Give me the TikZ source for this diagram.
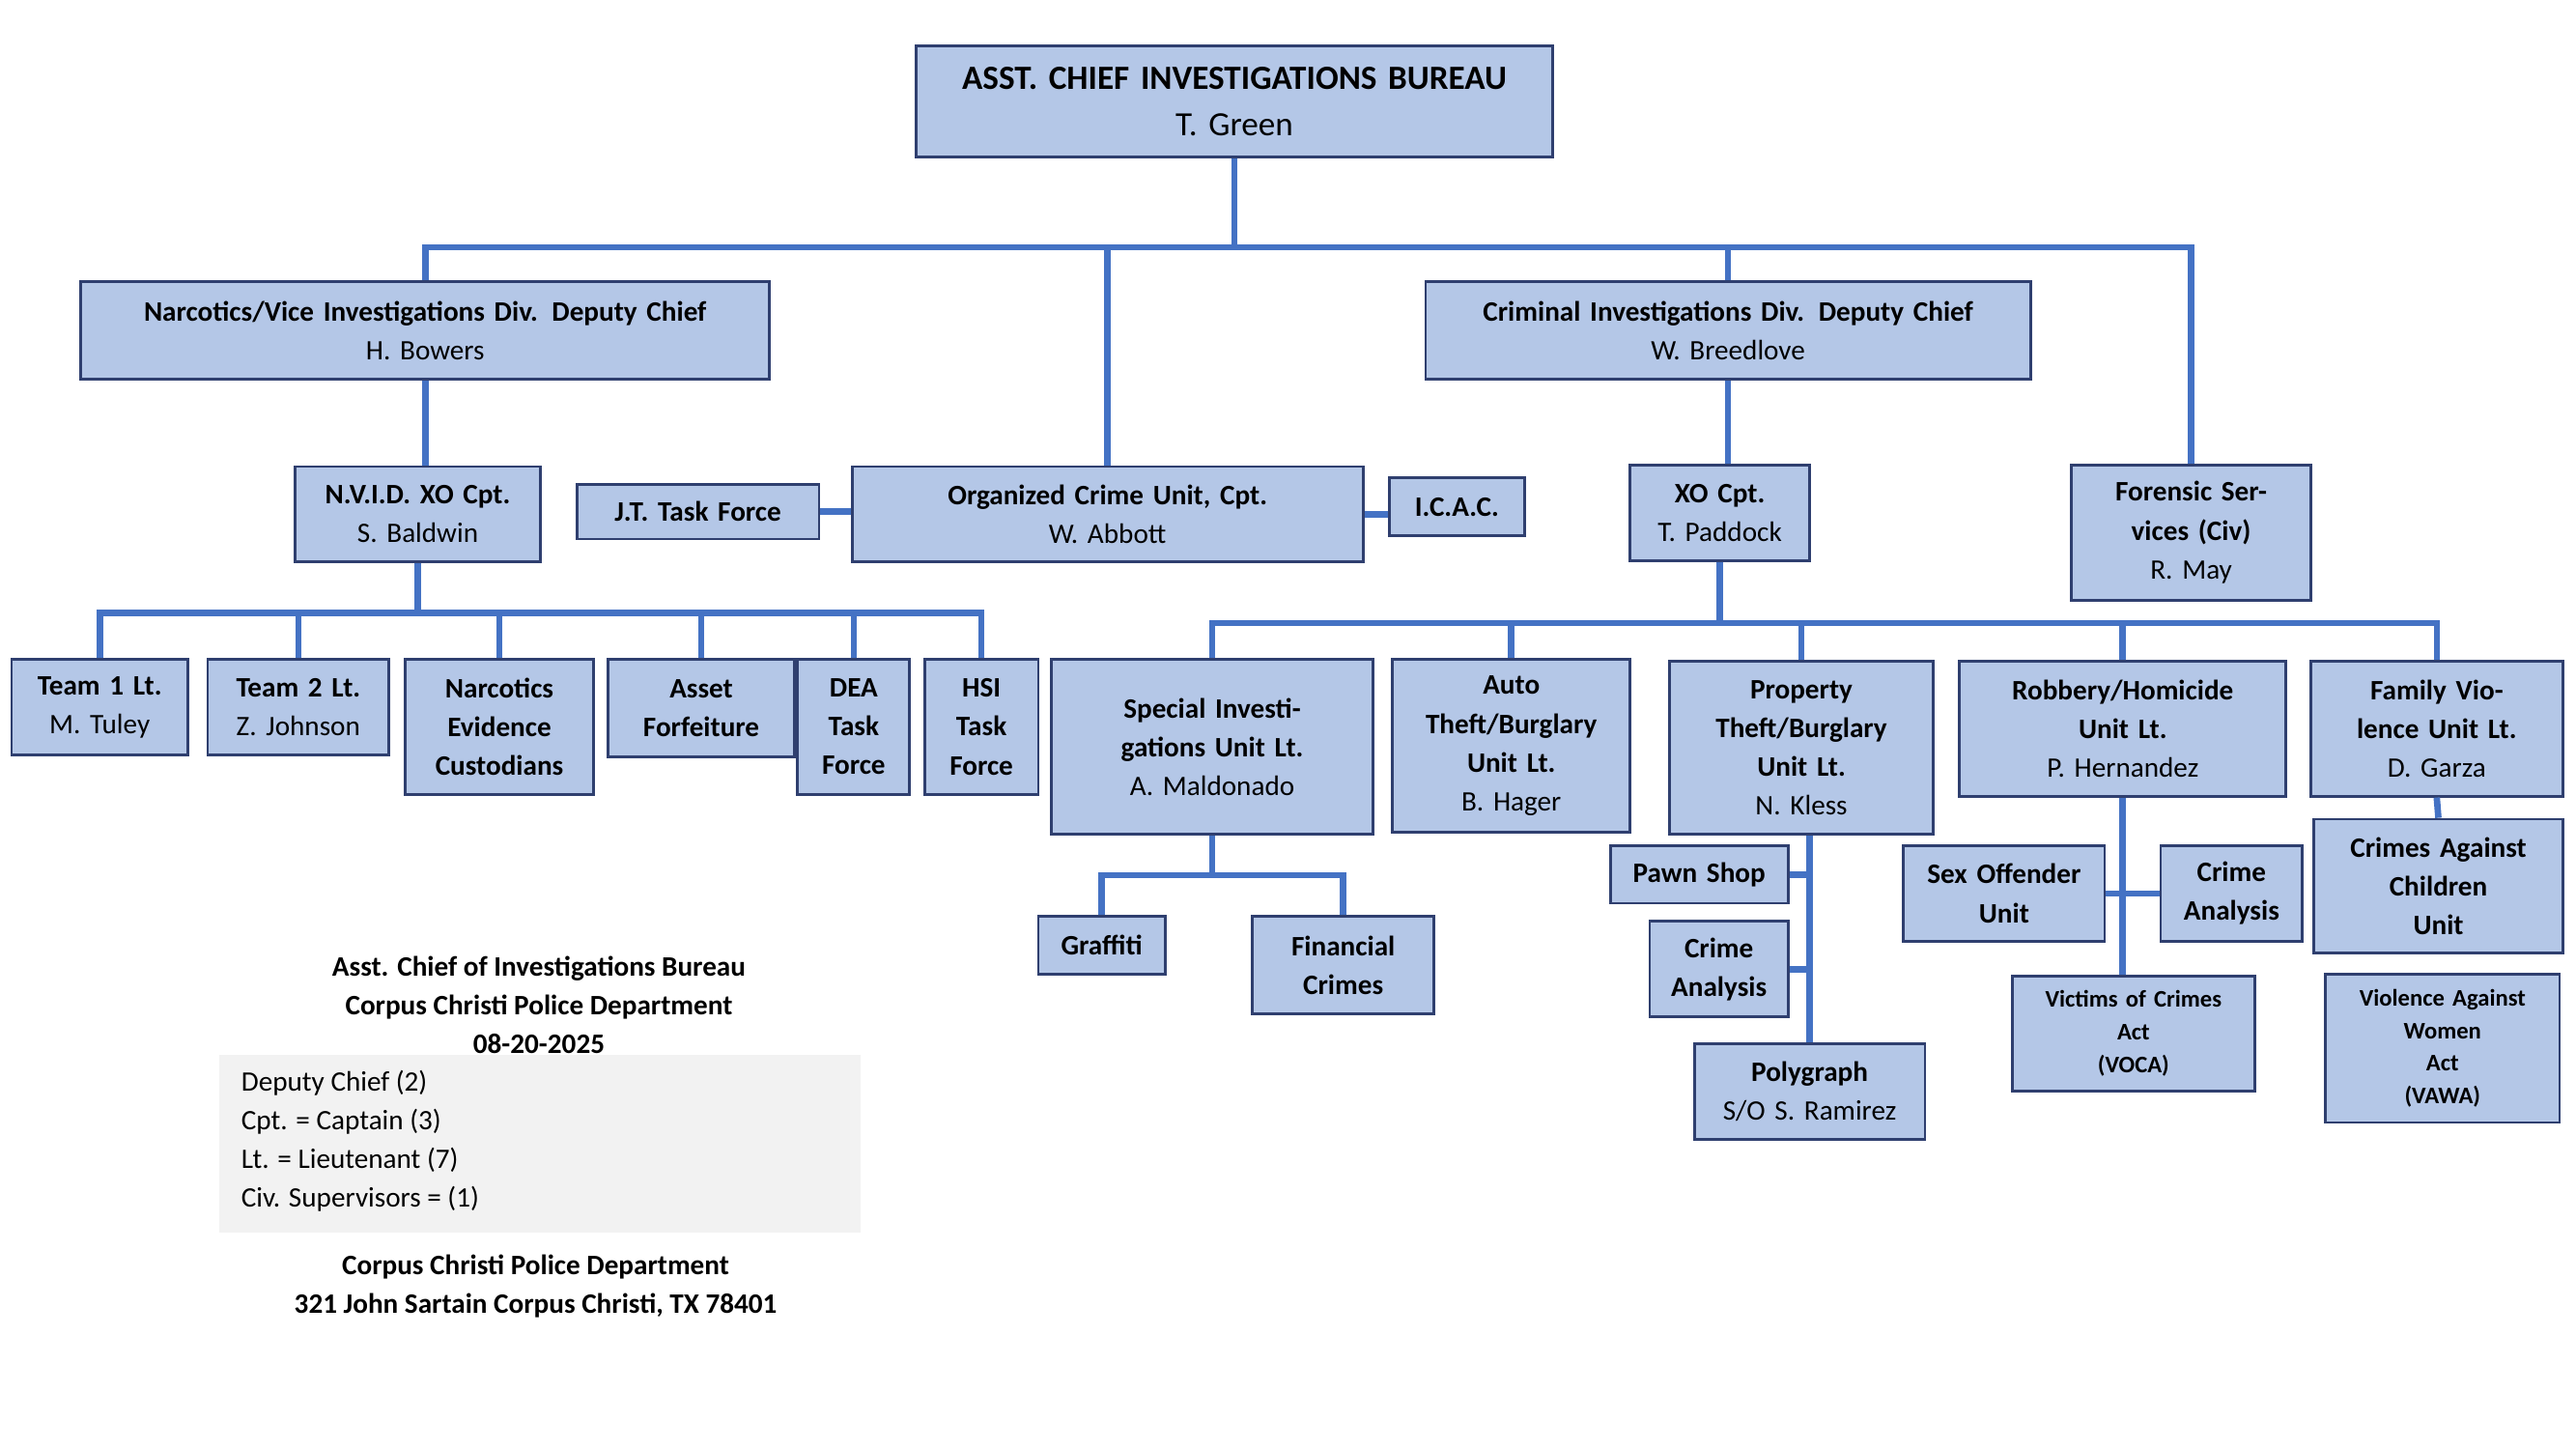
\documentclass[tikz,border=0pt]{standalone}
\usepackage{fontspec}
\setmainfont{Carlito}
\def\u{0.017064cm}
\definecolor{boxfill}{HTML}{B4C7E7}
\definecolor{boxline}{HTML}{2F3F6F}
\definecolor{linkblue}{HTML}{4472C4}
\definecolor{legendgray}{HTML}{F2F2F2}
\tikzset{
  box/.style 2 args={draw=boxline, fill=boxfill, line width=0.8pt, align=center,
    inner sep=0pt, minimum width=#1*\u, minimum height=#2*\u, text width=#1*\u-6*\u,
    font=\fontsize{8.3}{11.4}\selectfont},
  small/.style={font=\fontsize{7}{9.6}\selectfont\bfseries},
  link/.style={draw=linkblue, line width=1.9pt},
  legend/.style={font=\fontsize{8.3}{11.4}\selectfont\bfseries, align=center}
}
\begin{document}
\begin{tikzpicture}[x=\u, y=-\u]
\useasboundingbox (0,0) rectangle (1563,879);
% top
\node (top) [box={386}{67}, font=\fontsize{10}{13.5}\selectfont] at (749,61.5) {\textbf{ASST. CHIEF INVESTIGATIONS BUREAU}\\T. Green};
% divisions
\node (nvd) [box={418}{59}] at (258,200.5) {\textbf{Narcotics/Vice Investigations Div. Deputy Chief}\\H. Bowers};
\node (cid) [box={367}{59}] at (1048.5,200.5) {\textbf{Criminal Investigations Div. Deputy Chief}\\W. Breedlove};
\node (nvxo) [box={149}{58}] at (253.5,312) {\textbf{N.V.I.D. XO Cpt.}\\S. Baldwin};
\node (jt) [box={147}{33}] at (423.5,310.5) {\textbf{J.T. Task Force}};
\node (ocu) [box={310}{58}] at (672,312) {\textbf{Organized Crime Unit, Cpt.}\\W. Abbott};
\node (icac) [box={82}{35}] at (884,307.5) {\textbf{I.C.A.C.}};
\node (xo) [box={109}{58}] at (1043.5,311) {\textbf{XO Cpt.}\\T. Paddock};
\node (fs) [box={145}{82}] at (1329.5,323) {\textbf{Forensic Services (Civ)}\\R. May};
% narcotics units
\node (t1) [box={107}{58}] at (60.5,429) {\textbf{Team 1 Lt.}\\M. Tuley};
\node (t2) [box={110}{58}] at (181,429) {\textbf{Team 2 Lt.}\\Z. Johnson};
\node (nec) [box={114}{82}] at (303,441) {\textbf{Narcotics Evidence Custodians}};
\node (af) [box={113}{59}] at (425.5,429.5) {\textbf{Asset\\Forfeiture}};
\node (dea) [box={68}{82}] at (518,441) {\textbf{DEA\\Task\\Force}};
\node (hsi) [box={69}{82}] at (595.5,441) {\textbf{HSI\\Task\\Force}};
% criminal units
\node (siu) [box={195}{106}] at (735.5,453) {\textbf{Special Investigations Unit Lt.}\\A. Maldonado};
\node (atb) [box={144}{105}] at (917,452.5) {\textbf{Auto Theft/Burglary Unit Lt.}\\B. Hager};
\node (ptb) [box={160}{105}] at (1093,453.5) {\textbf{Property Theft/Burglary Unit Lt.}\\N. Kless};
\node (rh) [box={198}{82}] at (1288,442) {\textbf{Robbery/Homicide Unit Lt.}\\P. Hernandez};
\node (fv) [box={153}{82}] at (1478.5,442) {\textbf{Family Violence Unit Lt.}\\D. Garza};
\node (graf) [box={77}{35}] at (668.5,573.5) {\textbf{Graffiti}};
\node (fin) [box={110}{59}] at (815,585.5) {\textbf{Financial\\Crimes}};
\node (pawn) [box={108}{35}] at (1031,530.5) {\textbf{Pawn Shop}};
\node (ca1) [box={84}{58}] at (1043,588) {\textbf{Crime\\Analysis}};
\node (poly) [box={140}{58}] at (1098,662) {\textbf{Polygraph}\\S/O S. Ramirez};
\node (sex) [box={122}{58}] at (1216,542) {\textbf{Sex Offender\\Unit}};
\node (ca2) [box={86}{58}] at (1354,542) {\textbf{Crime\\Analysis}};
\node (voca) [box={147}{70}, small] at (1294.5,627) {Victims of Crimes\\Act\\(VOCA)};
\node (cac) [box={151}{81}] at (1479.5,537.5) {\textbf{Crimes Against Children\\Unit}};
\node (vawa) [box={142}{90}, small] at (1482,636) {Violence Against\\Women\\Act\\(VAWA)};
% buses
\coordinate (bus1) at (0,150);
\coordinate (bus2) at (0,372);
\coordinate (bus3) at (0,378);
\coordinate (bus4) at (0,531);
\begin{scope}[on background layer/.style={}]
\draw[link] (top.south) -- (top.south |- bus1);
\draw[link] (nvd.north) |- (fs.north |- bus1) -- (fs.north);
\draw[link] (ocu.north) -- (ocu.north |- bus1);
\draw[link] (cid.north) -- (cid.north |- bus1);
\draw[link] (nvd.south) -- (nvd.south |- nvxo.north);
\draw[link] (jt.east) -- (jt.east -| ocu.west);
\draw[link] (icac.west |- ocu.east) -- (ocu.east);
\draw[link] (nvxo.south) -- (nvxo.south |- bus2);
\draw[link] (t1.north) |- (hsi.north |- bus2) -- (hsi.north);
\foreach \n in {t2,nec,af,dea}
  \draw[link] (\n.north) -- (\n.north |- bus2);
\draw[link] (cid.south) -- (cid.south |- xo.north);
\draw[link] (xo.south) -- (xo.south |- bus3);
\draw[link] (siu.north) |- (fv.north |- bus3) -- (fv.north);
\foreach \n in {atb,ptb,rh}
  \draw[link] (\n.north) -- (\n.north |- bus3);
\draw[link] (siu.south) -- (siu.south |- bus4);
\draw[link] (graf.north) |- (fin.north |- bus4) -- (fin.north);
\draw[link] (poly.north |- ptb.south) -- (poly.north);
\draw[link] (pawn.east) -- (pawn.east -| poly.north);
\draw[link] (ca1.east) -- (ca1.east -| poly.north);
\draw[link] (rh.south) -- (rh.south |- voca.north);
\draw[link] (sex.east) -- (ca2.west);
\draw[link] (fv.south) -- (cac.north);
\end{scope}
% legend
\node (lgtitle) [legend, anchor=north] at (327,573) {Asst. Chief of Investigations Bureau\\Corpus Christi Police Department\\08-20-2025};
\fill[legendgray] (133,640) rectangle (522,748);
\node (lgtext) [anchor=north west, align=left, font=\fontsize{8.3}{11.4}\selectfont, inner sep=0pt] at (146,649) {Deputy Chief (2)\\Cpt. = Captain (3)\\Lt. = Lieutenant (7)\\Civ. Supervisors = (1)};
\node (lgaddr) [legend, anchor=north] at (325,754) {Corpus Christi Police Department\\321 John Sartain Corpus Christi, TX 78401};
\end{tikzpicture}
\end{document}
